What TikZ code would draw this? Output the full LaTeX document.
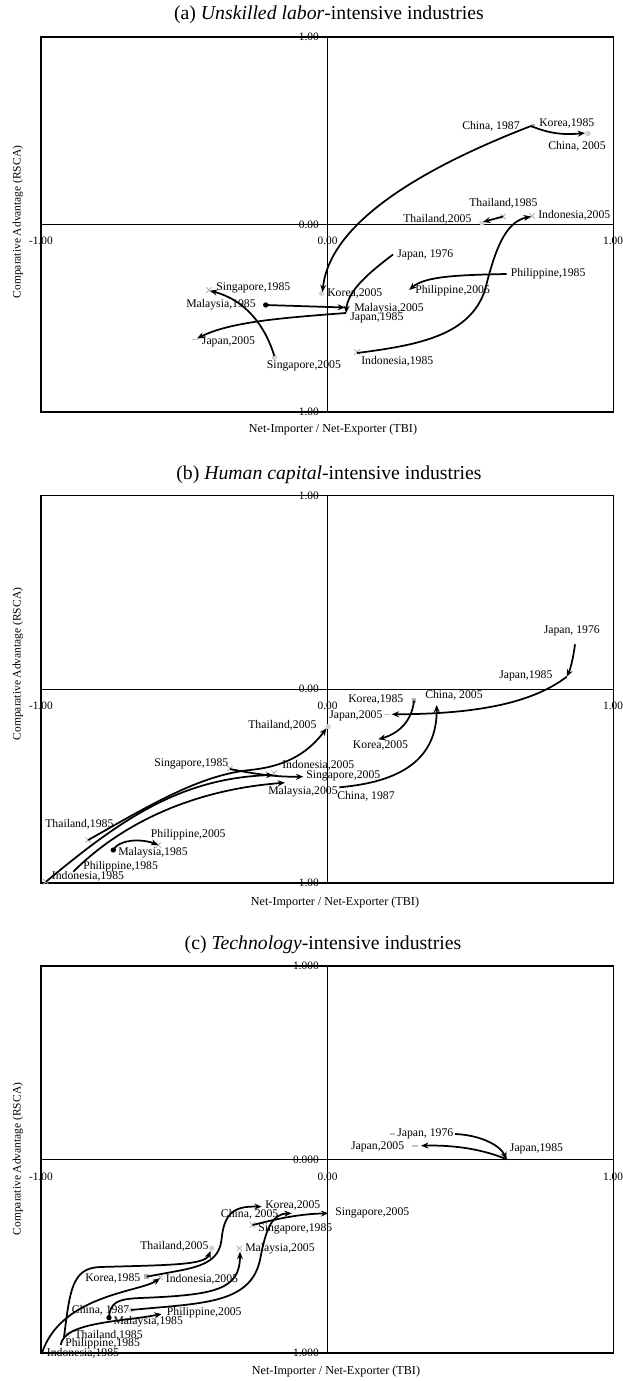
\documentclass[tikz,border=0pt]{standalone}
\usepackage{fontspec}
\setmainfont{Liberation Serif}
\usetikzlibrary{arrows.meta,shapes.misc,shapes.geometric}
\begin{document}
\begin{tikzpicture}[x=0.75pt,y=-0.75pt,
  lbl/.style={font=\fontsize{8.8}{10}\selectfont, inner sep=0pt, anchor=west},
  ytk/.style={font=\fontsize{8.5}{9}\selectfont, inner sep=0pt, anchor=east},
  xtk/.style={font=\fontsize{8.5}{9}\selectfont, inner sep=0pt},
  ttl/.style={font=\fontsize{14.8}{17}\selectfont, inner sep=0pt},
  axt/.style={font=\fontsize{9.1}{11}\selectfont, inner sep=0pt},
  ayt/.style={font=\fontsize{8.6}{10}\selectfont, inner sep=0pt, rotate=90},
  frm/.style={line width=0.9pt},
  axl/.style={line width=0.7pt},
  arr/.style={line width=1.3pt, -{Stealth[length=5.5pt,width=4.5pt]}},
  gsq/.style={rectangle, fill=gray!60, minimum size=3.5pt, inner sep=0pt},
  gdot/.style={circle, fill=gray!35, minimum size=4pt, inner sep=0pt},
  bdot/.style={circle, fill=black, minimum size=4pt, inner sep=0pt},
  gx/.style={cross out, draw=gray!60, minimum size=3.5pt, inner sep=0pt, line width=0.6pt},
  gdash/.style={rectangle, fill=gray!50, minimum width=4pt, minimum height=1pt, inner sep=0pt},
  gdia/.style={diamond, fill=gray!35, minimum size=5pt, inner sep=0pt}
]
\useasboundingbox (0,0) rectangle (623,1381);

% ================= Panel (a) =================
\node[ttl] (a-title) at (329,15) {(a) \textit{Unskilled labor}-intensive industries};
\draw[frm] (41,37) rectangle (613.5,412);
\draw[axl] (327,37) -- (327,412);
\draw[axl] (41,224.5) -- (613.5,224.5);
\node[ytk] (a-y1) at (319,37) {1.00};
\node[ytk] (a-y0) at (319,224.5) {0.00};
\node[ytk] (a-ym) at (319,412) {-1.00};
\node[xtk] (a-xm) at (41,240.5) {-1.00};
\node[xtk] (a-x0) at (327.5,240.5) {0.00};
\node[xtk] (a-x1) at (613,240.5) {1.00};
\node[axt] (a-xt) at (333,430) {Net-Importer / Net-Exporter (TBI)};
\node[ayt] (a-yt) at (18,222) {Comparative Advantage (RSCA)};

\coordinate (aK85) at (531,126);
\coordinate (aC05) at (585,133);
\coordinate (aK05) at (322.5,292);
\coordinate (aT85) at (503,216.5);
\coordinate (aT05) at (483,222);
\coordinate (aI85) at (357,353);
\coordinate (aI05) at (531,216.5);
\coordinate (aJ76) at (393,254.5);
\coordinate (aJ85) at (346,313);
\coordinate (aJ05) at (197,338.5);
\coordinate (aM85) at (265.7,305);
\coordinate (aM05) at (345,307.5);
\coordinate (aS05) at (274.3,356);
\coordinate (aS85) at (210,290.7);
\coordinate (aP85) at (506.6,274);
\coordinate (aP05) at (409.2,290);

\node[gsq] (a-m1) at (533,126) {};
\node[gdot] (a-m2) at (588,133.5) {};
\node[gx] (a-m3) at (503,216.5) {};
\node[gdot] (a-m4) at (482,223) {};
\node[gx] (a-m5) at (532,216) {};
\node[gdia] (a-m6) at (321.7,293.5) {};
\node[gx] (a-m7) at (209,290) {};
\node[bdot] (a-m8) at (265.7,305) {};
\node[gdash] (a-m9) at (195,339.5) {};
\node[gdot] (a-m10) at (274.5,357.5) {};
\node[gx] (a-m11) at (357,352) {};

\draw[arr] (aK85) .. controls (430,165) and (330,220) .. (aK05);
\draw[arr] (aK85) .. controls (550,134) and (565,135) .. (aC05);
\draw[arr] (aT85) -- (aT05);
\draw[arr] (aI85) .. controls (420,345) and (470,335) .. (485,290) .. controls (495,250) and (505,222) .. (aI05);
\draw[arr] (aJ76) .. controls (370,272) and (348,290) .. (aJ85);
\draw[arr] (aJ85) .. controls (280,318) and (230,322) .. (aJ05);
\draw[arr] (aM85) -- (aM05);
\draw[arr] (aS05) .. controls (265,325) and (245,300) .. (aS85);
\draw[arr] (aP85) .. controls (460,275) and (425,276) .. (aP05);

\node[lbl] (a-l1) at (462,126) {China, 1987};
\node[lbl] (a-l2) at (539,123) {Korea,1985};
\node[lbl] (a-l3) at (548,146) {China, 2005};
\node[lbl] (a-l4) at (469,203.3) {Thailand,1985};
\node[lbl] (a-l5) at (403,219) {Thailand,2005};
\node[lbl] (a-l6) at (538,215) {Indonesia,2005};
\node[lbl] (a-l7) at (397,255) {Japan, 1976};
\node[lbl] (a-l8) at (510.5,274) {Philippine,1985};
\node[lbl] (a-l9) at (216,287.7) {Singapore,1985};
\node[lbl] (a-l10) at (327,293) {Korea,2005};
\node[lbl] (a-l11) at (415,291) {Philippine,2005};
\node[lbl] (a-l12) at (186,305) {Malaysia,1985};
\node[lbl] (a-l13) at (354,308.3) {Malaysia,2005};
\node[lbl] (a-l14) at (350,318.3) {Japan,1985};
\node[lbl] (a-l15) at (201.7,342.3) {Japan,2005};
\node[lbl] (a-l16) at (361,361) {Indonesia,1985};
\node[lbl] (a-l17) at (266.7,366) {Singapore,2005};

% ================= Panel (b) =================
\node[ttl] (b-title) at (329,475) {(b) \textit{Human capital}-intensive industries};
\draw[frm] (41,495.5) rectangle (613.5,883);
\draw[axl] (327,495.5) -- (327,883);
\draw[axl] (41,689) -- (613.5,689);
\node[ytk] (b-y1) at (319,495.5) {1.00};
\node[ytk] (b-y0) at (319,689) {0.00};
\node[ytk] (b-ym) at (319,883) {-1.00};
\node[xtk] (b-xm) at (41,706) {-1.00};
\node[xtk] (b-x0) at (327.5,706) {0.00};
\node[xtk] (b-x1) at (613,706) {1.00};
\node[axt] (b-xt) at (335,903) {Net-Importer / Net-Exporter (TBI)};
\node[ayt] (b-yt) at (18,664) {Comparative Advantage (RSCA)};

\coordinate (bJ76) at (575,644.3);
\coordinate (bJ85) at (566.7,676.7);
\coordinate (bJ05) at (391.7,714.3);
\coordinate (bK85) at (414,700.7);
\coordinate (bK05) at (378.3,739.3);
\coordinate (bC87) at (339.3,787.3);
\coordinate (bC05) at (436.7,705);
\coordinate (bT85) at (88.3,840);
\coordinate (bT05) at (326.6,728.3);
\coordinate (bS85) at (230,769);
\coordinate (bS05) at (303.3,776.7);
\coordinate (bI85) at (46,881.7);
\coordinate (bI05) at (273.3,775);
\coordinate (bP85) at (73.3,871.7);
\coordinate (bM05) at (285,782.7);
\coordinate (bM85) at (113.3,850);
\coordinate (bP05) at (158.3,845);

\node[gsq] (b-m1) at (414,700.7) {};
\node[gdot] (b-m2) at (328.3,726.7) {};
\node[gdash] (b-m3) at (387,714.3) {};
\node[gx] (b-m4) at (274,773.3) {};
\node[gx] (b-m5) at (230,768.5) {};
\node[bdot] (b-m6) at (113.3,850) {};
\node[gx] (b-m7) at (88.3,840) {};
\node[gx] (b-m8) at (46,881.7) {};
\node[gx] (b-m9) at (158.3,845) {};

\draw[arr] (bJ76) .. controls (573,660) and (570,670) .. (bJ85);
\draw[arr] (bJ85) .. controls (530,705) and (470,714) .. (bJ05);
\draw[arr] (bK85) .. controls (412,720) and (400,733) .. (bK05);
\draw[arr] (bC87) .. controls (400,782) and (437,760) .. (bC05);
\draw[arr] (bT85) .. controls (150,805) and (200,775) .. (250,770) .. controls (290,766) and (310,750) .. (bT05);
\draw[arr] (bS85) .. controls (255,774) and (275,777) .. (bS05);
\draw[arr] (bI85) .. controls (120,820) and (180,778) .. (bI05);
\draw[arr] (bP85) .. controls (120,825) and (190,790) .. (bM05);
\draw[arr] (bM85) .. controls (118,840) and (140,838) .. (bP05);

\node[lbl] (b-l1) at (543.5,631) {Japan, 1976};
\node[lbl] (b-l2) at (499,676) {Japan,1985};
\node[lbl] (b-l3) at (348,699) {Korea,1985};
\node[lbl] (b-l4) at (425,695) {China, 2005};
\node[lbl] (b-l5) at (329,716) {Japan,2005};
\node[lbl] (b-l6) at (248,725) {Thailand,2005};
\node[lbl] (b-l7) at (352.7,745) {Korea,2005};
\node[lbl] (b-l8) at (154,764.3) {Singapore,1985};
\node[lbl] (b-l9) at (282,765.7) {Indonesia,2005};
\node[lbl] (b-l10) at (306,775.7) {Singapore,2005};
\node[lbl] (b-l11) at (268,791.7) {Malaysia,2005};
\node[lbl] (b-l12) at (337,796.7) {China, 1987};
\node[lbl] (b-l13) at (45,824) {Thailand,1985};
\node[lbl] (b-l14) at (150.7,835) {Philippine,2005};
\node[lbl] (b-l15) at (118,852.7) {Malaysia,1985};
\node[lbl] (b-l16) at (83,866.7) {Philippine,1985};
\node[lbl] (b-l17) at (51.7,876.7) {Indonesia,1985};

% ================= Panel (c) =================
\node[ttl] (c-title) at (323,945) {(c) \textit{Technology}-intensive industries};
\draw[frm] (41,966) rectangle (613.5,1353);
\draw[axl] (327,966) -- (327,1353);
\draw[axl] (41,1159.5) -- (613.5,1159.5);
\node[ytk] (c-y1) at (319,966) {1.000};
\node[ytk] (c-y0) at (319,1159.5) {0.000};
\node[ytk] (c-ym) at (319,1353) {-1.000};
\node[xtk] (c-xm) at (41,1176.5) {-1.00};
\node[xtk] (c-x0) at (327.5,1176.5) {0.00};
\node[xtk] (c-x1) at (613,1176.5) {1.00};
\node[axt] (c-xt) at (336,1372) {Net-Importer / Net-Exporter (TBI)};
\node[ayt] (c-yt) at (18,1159) {Comparative Advantage (RSCA)};

\coordinate (cJ76) at (455,1134);
\coordinate (cJ85) at (506.6,1159.3);
\coordinate (cJ05) at (421,1145.7);
\coordinate (cS85) at (252.7,1225);
\coordinate (cS05) at (328.3,1213.3);
\coordinate (cK85) at (146.7,1276.7);
\coordinate (cK05) at (261.7,1206.7);
\coordinate (cC87) at (131,1310);
\coordinate (cC05) at (291.7,1213.3);
\coordinate (cT85) at (64,1337);
\coordinate (cT05) at (210.5,1251);
\coordinate (cI85) at (41.7,1354);
\coordinate (cI05) at (160,1278.3);
\coordinate (cM85) at (109,1317.7);
\coordinate (cM05) at (240,1251.7);
\coordinate (cP85) at (60.7,1345);
\coordinate (cP05) at (161.7,1314);

\node[gdash] (c-m1) at (392.5,1134) {};
\node[gdash] (c-m2) at (415,1146) {};
\node[gx] (c-m3) at (252.5,1225) {};
\node[gdot] (c-m4) at (211.7,1248.3) {};
\node[gx] (c-m5) at (239.3,1248.3) {};
\node[gsq] (c-m6) at (146.7,1276.7) {};
\node[gx] (c-m7) at (160,1277.3) {};
\node[gdot] (c-m8) at (131,1310) {};
\node[bdot] (c-m9) at (109,1317.7) {};
\node[gx] (c-m10) at (67,1334) {};

\draw[arr] (cJ76) .. controls (480,1135) and (500,1145) .. (cJ85);
\draw[arr] (cJ85) .. controls (480,1148) and (450,1145) .. (cJ05);
\draw[arr] (cS85) .. controls (280,1218) and (300,1214) .. (cS05);
\draw[arr] (cK85) .. controls (190,1268) and (218,1268) .. (221.5,1240) .. controls (224,1212) and (235,1206) .. (cK05);
\draw[arr] (cC87) .. controls (200,1303) and (250,1305) .. (260,1260) .. controls (266,1228) and (272,1214) .. (cC05);
\draw[arr] (cT85) .. controls (70,1290) and (72,1268) .. (100,1267) .. controls (170,1265) and (205,1265) .. (cT05);
\draw[arr] (cI85) .. controls (60,1295) and (140,1292) .. (cI05);
\draw[arr] (cM85) .. controls (110,1302) and (118,1299) .. (140,1298) .. controls (215,1295) and (240,1290) .. (cM05);
\draw[arr] (cP85) .. controls (64,1322) and (120,1322) .. (cP05);

\node[lbl] (c-l1) at (397,1134) {Japan, 1976};
\node[lbl] (c-l2) at (509.7,1149) {Japan,1985};
\node[lbl] (c-l3) at (350.8,1146.7) {Japan,2005};
\node[lbl] (c-l4) at (265,1205) {Korea,2005};
\node[lbl] (c-l5) at (335,1213.3) {Singapore,2005};
\node[lbl] (c-l6) at (220.7,1214.3) {China, 2005};
\node[lbl] (c-l7) at (258,1229) {Singapore,1985};
\node[lbl] (c-l8) at (140,1246.7) {Thailand,2005};
\node[lbl] (c-l9) at (245,1249) {Malaysia,2005};
\node[lbl] (c-l10) at (85,1278.3) {Korea,1985};
\node[lbl] (c-l11) at (165.7,1279) {Indonesia,2005};
\node[lbl] (c-l12) at (71.7,1310) {China, 1987};
\node[lbl] (c-l13) at (166.7,1312.7) {Philippine,2005};
\node[lbl] (c-l14) at (113.3,1321.7) {Malaysia,1985};
\node[lbl] (c-l15) at (74.3,1335) {Thailand,1985};
\node[lbl] (c-l16) at (65,1343.5) {Philippine,1985};
\node[lbl] (c-l17) at (46.7,1353.8) {Indonesia,1985};
\end{tikzpicture}
\end{document}
